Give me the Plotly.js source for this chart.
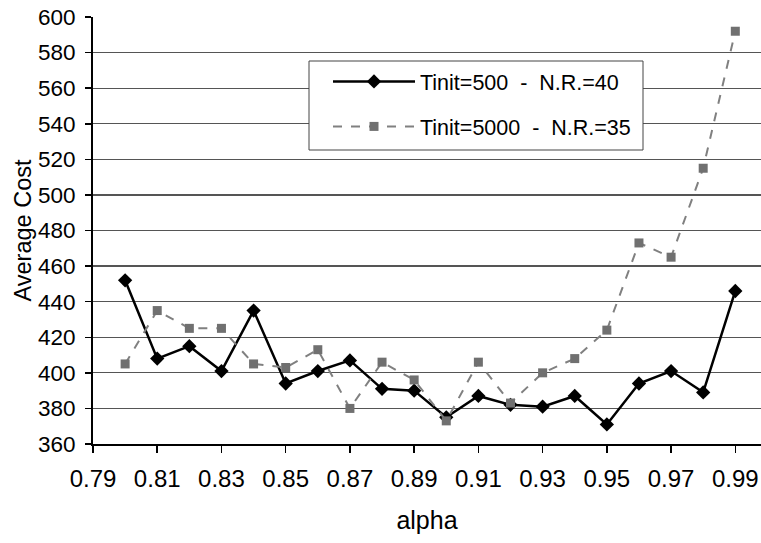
<!DOCTYPE html>
<html>
<head>
<meta charset="utf-8">
<script src="https://cdn.plot.ly/plotly-3.0.1.min.js"></script>
<style>html,body{margin:0;padding:0;background:#fff;}#chart{width:761px;height:543px;}</style>
</head>
<body>
<div id="chart"></div>
<script>
const alpha = [0.80,0.81,0.82,0.83,0.84,0.85,0.86,0.87,0.88,0.89,0.90,0.91,0.92,0.93,0.94,0.95,0.96,0.97,0.98,0.99];
const cost500 = [452,408,415,401,435,394,401,407,391,390,375,387,382,381,387,371,394,401,389,446];
const cost5000 = [405,435,425,425,405,403,413,380,406,396,373,406,383,400,408,424,473,465,515,592];
const seriesNames = ["Tinit=500  -  N.R.=40", "Tinit=5000  -  N.R.=35"];
const xTicks = [0.79,0.81,0.83,0.85,0.87,0.89,0.91,0.93,0.95,0.97,0.99];
const yTicks = [360,380,400,420,440,460,480,500,520,540,560,580,600];

const traces = [
  {x: alpha, y: cost500, name: seriesNames[0], mode: 'lines+markers', legendgroup: 'a',
   line: {color: '#000', width: 2.5}, marker: {symbol: 'diamond', size: 11, color: '#000'}},
  {x: alpha, y: cost5000, name: seriesNames[1], mode: 'lines+markers', legendgroup: 'b',
   line: {color: '#808080', width: 2, dash: 'dash'}, marker: {symbol: 'square', size: 9, color: '#707070'}}
];

const fam = 'Liberation Sans, Arial, sans-serif';
const f = (s) => ({family: fam, size: s, color: '#000'});

const layout = {
  width: 761, height: 543,
  margin: {l: 93, r: 0, t: 17, b: 99},
  paper_bgcolor: '#fff', plot_bgcolor: '#fff',
  font: f(20),
  showlegend: true,
  legend: {x: 0.3518, y: 0.897, xanchor: 'left', yanchor: 'top', bgcolor: 'rgba(0,0,0,0)',
    borderwidth: 0, font: f(21.5), itemwidth: 82,
    traceorder: 'grouped', tracegroupgap: 14},
  shapes: [
    {type: 'rect', xref: 'paper', yref: 'paper', layer: 'above',
     x0: (309-93)/668, x1: (643-93)/668, y0: (444-150)/427, y1: (444-61)/427,
     fillcolor: '#fff', line: {color: '#444', width: 1}}
  ],
  xaxis: {
    range: [0.79, 0.998], tickvals: xTicks, ticktext: xTicks.map(v => v.toFixed(2)),
    tickfont: f(24),
    showgrid: false, zeroline: false, showline: true, linecolor: '#000', linewidth: 2,
    ticks: 'outside', ticklen: 7, tickcolor: '#000', tickwidth: 1.5, ticklabelstandoff: 5,
    title: {text: 'alpha', font: f(25), standoff: 21}
  },
  yaxis: {
    range: [360, 600], tickvals: yTicks, ticktext: yTicks.map(String),
    tickfont: f(22.5),
    showgrid: true, gridcolor: '#555', gridwidth: 1.3, zeroline: false,
    showline: true, linecolor: '#000', linewidth: 2,
    ticks: 'outside', ticklen: 6, tickcolor: '#000', tickwidth: 1.5, ticklabelstandoff: 5,
    title: {text: 'Average Cost', font: f(23.5), standoff: 0}
  }
};

Plotly.newPlot('chart', traces, layout, {displayModeBar: false, staticPlot: true});
</script>
</body>
</html>
